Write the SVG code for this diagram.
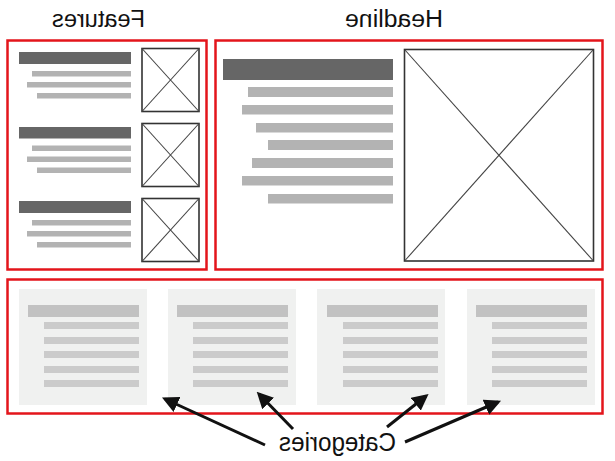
<svg xmlns="http://www.w3.org/2000/svg" width="615" height="461" viewBox="0 0 615 461">
<defs>
<style>
.frame{fill:none;stroke:#e3151b;stroke-width:2.5}
.dark{fill:#666666}
.light{fill:#b3b3b3}
.img{fill:#ffffff;stroke:#333333;stroke-width:1.6}
.x{stroke:#444444;stroke-width:1.1}
.panel{fill:#f0f1f0}
.head{fill:#c2c2c2}
.ln{fill:#cbcbcb}
.lbl{font-family:"Liberation Sans",Arial,sans-serif;fill:#111111;text-anchor:middle}
.arr{stroke:#111111;stroke-width:3;fill:none;marker-end:url(#ah)}
</style>
<marker id="ah" viewBox="0 0 10 10" refX="8" refY="5" markerWidth="5.5" markerHeight="5.5" orient="auto" markerUnits="strokeWidth">
<path d="M0,0 L10,5 L0,10 z" fill="#111111"/>
</marker>
</defs>
<rect width="615" height="461" fill="#ffffff"/>

<g id="features">
<rect class="frame" x="7.5" y="40.5" width="199" height="229"/>
<text class="lbl" transform="scale(-1,1)" x="-98.5" y="27" font-size="23" textLength="93" lengthAdjust="spacingAndGlyphs">Features</text>
<g id="feature1">
<rect class="dark" x="19" y="52" width="112" height="12"/>
<rect class="light" x="32" y="71" width="99" height="5.5"/>
<rect class="light" x="27" y="82" width="104" height="5.5"/>
<rect class="light" x="37" y="93" width="94" height="5.5"/>
<rect class="img" x="142" y="48.5" width="57" height="63"/>
<line class="x" x1="142" y1="48.5" x2="199" y2="111.5"/><line class="x" x1="199" y1="48.5" x2="142" y2="111.5"/>
</g>
<g id="feature2">
<rect class="dark" x="19" y="127" width="112" height="11.5"/>
<rect class="light" x="32" y="145.5" width="99" height="5.5"/>
<rect class="light" x="27" y="156.5" width="104" height="5.5"/>
<rect class="light" x="37" y="167.5" width="94" height="5.5"/>
<rect class="img" x="142" y="123.5" width="57" height="63"/>
<line class="x" x1="142" y1="123.5" x2="199" y2="186.5"/><line class="x" x1="199" y1="123.5" x2="142" y2="186.5"/>
</g>
<g id="feature3">
<rect class="dark" x="19" y="201" width="112" height="12"/>
<rect class="light" x="32" y="220" width="99" height="5.5"/>
<rect class="light" x="27" y="231" width="104" height="5.5"/>
<rect class="light" x="37" y="242" width="94" height="5.5"/>
<rect class="img" x="142" y="198.5" width="57" height="63"/>
<line class="x" x1="142" y1="198.5" x2="199" y2="261.5"/><line class="x" x1="199" y1="198.5" x2="142" y2="261.5"/>
</g>
</g>

<g id="headline">
<rect class="frame" x="215.5" y="40.5" width="387" height="229"/>
<text class="lbl" transform="scale(-1,1)" x="-394" y="27" font-size="23" textLength="98" lengthAdjust="spacingAndGlyphs">Headline</text>
<rect class="dark" x="223" y="59" width="170" height="21"/>
<rect class="light" x="248" y="87" width="145" height="10"/>
<rect class="light" x="242" y="105" width="151" height="9.5"/>
<rect class="light" x="256" y="123" width="137" height="9.5"/>
<rect class="light" x="268" y="140" width="125" height="10"/>
<rect class="light" x="252" y="158" width="141" height="10"/>
<rect class="light" x="242" y="176" width="151" height="9.5"/>
<rect class="light" x="268" y="194" width="125" height="9.5"/>
<rect class="img" x="404.5" y="49.5" width="189" height="211.5" stroke-width="2.2" stroke="#222222"/>
<line class="x" x1="405" y1="50" x2="593" y2="260.5"/><line class="x" x1="593" y1="50" x2="405" y2="260.5"/>
</g>

<g id="categories">
<rect class="frame" x="7.5" y="279.5" width="595" height="134"/>
<g id="cat1">
<rect class="panel" x="19" y="289" width="128" height="116"/>
<rect class="head" x="28" y="305" width="111" height="12"/>
<rect class="ln" x="44" y="322" width="95" height="7"/>
<rect class="ln" x="44" y="337" width="95" height="7"/>
<rect class="ln" x="44" y="351" width="95" height="7"/>
<rect class="ln" x="44" y="366" width="95" height="7"/>
<rect class="ln" x="44" y="380" width="95" height="7"/>
</g>
<g id="cat2">
<rect class="panel" x="168" y="289" width="128" height="116"/>
<rect class="head" x="177" y="305" width="111" height="12"/>
<rect class="ln" x="193" y="322" width="95" height="7"/>
<rect class="ln" x="193" y="337" width="95" height="7"/>
<rect class="ln" x="193" y="351" width="95" height="7"/>
<rect class="ln" x="193" y="366" width="95" height="7"/>
<rect class="ln" x="193" y="380" width="95" height="7"/>
</g>
<g id="cat3">
<rect class="panel" x="317" y="289" width="128" height="116"/>
<rect class="head" x="327" y="305" width="111" height="12"/>
<rect class="ln" x="343" y="322" width="95" height="7"/>
<rect class="ln" x="343" y="337" width="95" height="7"/>
<rect class="ln" x="343" y="351" width="95" height="7"/>
<rect class="ln" x="343" y="366" width="95" height="7"/>
<rect class="ln" x="343" y="380" width="95" height="7"/>
</g>
<g id="cat4">
<rect class="panel" x="467" y="289" width="128" height="116"/>
<rect class="head" x="476" y="305" width="111" height="12"/>
<rect class="ln" x="492" y="322" width="95" height="7"/>
<rect class="ln" x="492" y="337" width="95" height="7"/>
<rect class="ln" x="492" y="351" width="95" height="7"/>
<rect class="ln" x="492" y="366" width="95" height="7"/>
<rect class="ln" x="492" y="380" width="95" height="7"/>
</g>
</g>

<g id="label-categories">
<text class="lbl" transform="scale(-1,1)" x="-337.5" y="451" font-size="25" textLength="117" lengthAdjust="spacingAndGlyphs">Categories</text>
</g>

<g id="connectors">
<line class="arr" x1="265" y1="445" x2="165" y2="399"/>
<line class="arr" x1="293" y1="429" x2="259" y2="394"/>
<line class="arr" x1="387" y1="427" x2="426" y2="396"/>
<line class="arr" x1="405" y1="442" x2="498" y2="402"/>
</g>
</svg>
